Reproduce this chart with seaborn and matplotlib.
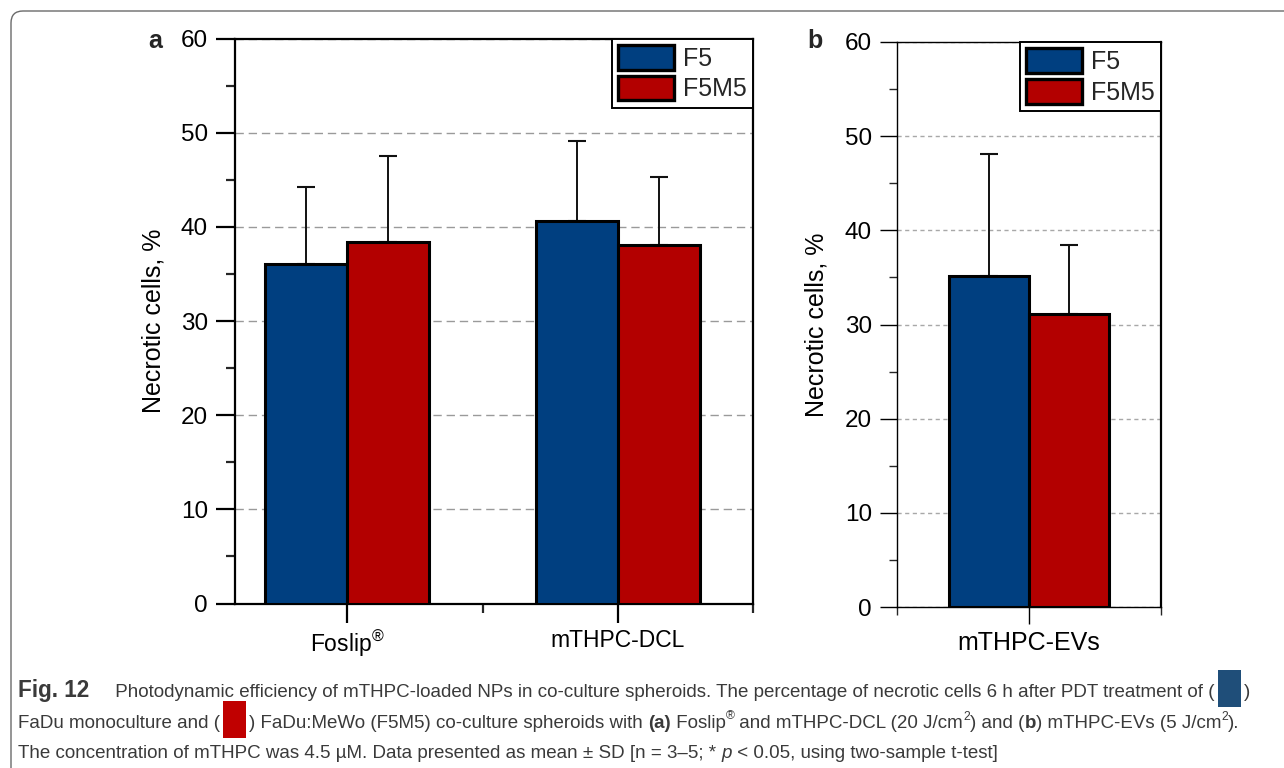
import numpy as np
import pandas as pd
import matplotlib
matplotlib.use("Agg")
import matplotlib.pyplot as plt
import seaborn as sns
from matplotlib.patches import Rectangle, FancyBboxPatch
from matplotlib.ticker import MultipleLocator, FixedLocator
from matplotlib.transforms import IdentityTransform

# panel a: 20 J/cm2
samples_a = ["Foslip®", "mTHPC-DCL"]
f5_a = [36.1, 40.6]
f5_sd_a = [8.1, 8.5]
f5m5_a = [38.4, 38.1]
f5m5_sd_a = [9.1, 7.2]

# panel b: 5 J/cm2
samples_b = ["mTHPC-EVs"]
f5_b = [35.2]
f5_sd_b = [12.9]
f5m5_b = [31.1]
f5m5_sd_b = [7.3]

lines = ["F5", "F5M5"]
colors = {"F5": "#003F80", "F5M5": "#B30000"}

W, H = 1284, 768

sns.set_theme(style="white")
plt.rcParams["font.family"] = ["Liberation Sans", "DejaVu Sans"]
plt.rcParams["mathtext.fontset"] = "custom"
plt.rcParams["mathtext.rm"] = "Liberation Sans"
plt.rcParams["mathtext.it"] = "Liberation Sans:italic"
plt.rcParams["mathtext.bf"] = "Liberation Sans:bold"

fig = plt.figure(figsize=(W / 100, H / 100), dpi=100)
fig.patch.set_facecolor("white")


def px_axes(left, top, right, bottom):
    return fig.add_axes([left / W, 1 - bottom / H, (right - left) / W, (bottom - top) / H])


def draw_panel(ax, samples, f5, f5m5, sd_f5, sd_f5m5, xlim, minor_x, spine_lw,
               tick_len, grid_dash, grid_color, xfont):
    df = pd.DataFrame({
        "sample": samples * 2,
        "line": ["F5"] * len(samples) + ["F5M5"] * len(samples),
        "value": f5 + f5m5,
    })
    sns.barplot(data=df, x="sample", y="value", hue="line", hue_order=lines,
                palette=colors, saturation=1, width=0.605, gap=0,
                edgecolor="black", linewidth=2.2, errorbar=None, ax=ax, zorder=3)

    # upper SD only, centred on each bar
    for cont, sd in zip(ax.containers, [sd_f5, sd_f5m5]):
        xs = [p.get_x() + p.get_width() / 2 for p in cont]
        ys = [p.get_height() for p in cont]
        ax.errorbar(xs, ys, yerr=[np.zeros(len(sd)), sd], fmt="none",
                    ecolor="#111111", elinewidth=1.4, capsize=6.5, capthick=1.5,
                    zorder=2)

    old = ax.get_legend()
    handles = old.legend_handles
    labels = [t.get_text() for t in old.get_texts()]
    leg = ax.legend(handles, labels, loc="upper right", borderaxespad=0,
                    frameon=True, fancybox=False, framealpha=1, edgecolor="black",
                    fontsize=18, handlelength=2.25, handleheight=1.15,
                    handletextpad=0.36, borderpad=0.25, labelspacing=0.2)
    leg.get_frame().set_linewidth(1.4)
    for h in leg.legend_handles:
        h.set_edgecolor("black")
        h.set_linewidth(2.4)

    ax.set_xlim(*xlim)
    ax.set_ylim(0, 60)
    ax.yaxis.set_major_locator(MultipleLocator(10))
    ax.yaxis.set_minor_locator(MultipleLocator(5))
    ax.xaxis.set_minor_locator(FixedLocator(minor_x))
    ax.set_xticks(range(len(samples)))
    ax.set_xticklabels([s.replace("®", r"$^{®}$") for s in samples], fontsize=xfont)
    ax.tick_params(axis="y", which="major", direction="out", length=tick_len,
                   width=spine_lw, labelsize=17.5, pad=6, left=True, right=False)
    ax.tick_params(axis="y", which="minor", direction="out", length=tick_len / 2,
                   width=spine_lw, left=True, right=False)
    ax.tick_params(axis="x", which="major", direction="out", length=tick_len,
                   width=spine_lw, pad=5, bottom=True, top=False)
    ax.tick_params(axis="x", which="minor", direction="out", length=tick_len / 2,
                   width=spine_lw, bottom=True, top=False)
    ax.tick_params(colors="black")
    for sp in ax.spines.values():
        sp.set_visible(True)
        sp.set_color("black")
        sp.set_linewidth(spine_lw)
    ax.set_axisbelow(True)
    ax.yaxis.grid(True, linestyle=grid_dash, color=grid_color, linewidth=1.0)
    ax.xaxis.grid(False)
    ax.set_xlabel("")
    ax.set_ylabel("Necrotic cells, %", fontsize=18, color="black")
    return ax


ax_a = px_axes(235, 38.5, 753, 603.5)
draw_panel(ax_a, samples_a, f5_a, f5m5_a, f5_sd_a, f5m5_sd_a,
           xlim=(-0.415, 1.5), minor_x=[0.5, 1.5], spine_lw=1.6, tick_len=13.5,
           grid_dash=(0, (6, 3.5)), grid_color="#9a9a9a", xfont=16.5)
ax_a.yaxis.set_label_coords((166 - 235) / 518, 0.5)

ax_b = px_axes(897, 42, 1161, 607)
draw_panel(ax_b, samples_b, f5_b, f5m5_b, f5_sd_b, f5m5_sd_b,
           xlim=(-0.5, 0.5), minor_x=[-0.5, 0.5], spine_lw=1.0, tick_len=12,
           grid_dash=(0, (3, 2.5)), grid_color="#a8a8a8", xfont=18)
ax_b.spines["right"].set_linewidth(1.6)
ax_b.yaxis.set_label_coords((828 - 897) / 264, 0.5)

fig.text(148 / W, 1 - 48 / H, "a", fontsize=18, fontweight="bold", va="baseline")
fig.text(807 / W, 1 - 48 / H, "b", fontsize=18, fontweight="bold", va="baseline")

# rounded frame round the figure (cropped at right and bottom)
fig.add_artist(FancyBboxPatch((11, -40), 1320, H - 11 + 40,
                              boxstyle="round,pad=0,rounding_size=12",
                              transform=IdentityTransform(), facecolor="none",
                              edgecolor="#6a6a6a", linewidth=1.0))

# caption
cap_font = ["Liberation Sans", "DejaVu Sans"]
cap_color = "#3a3a3a"
renderer = fig.canvas.get_renderer()

styles = {
    "": {},
    "b": {"fontweight": "bold"},
    "fig": {"fontweight": "bold"},
    "i": {"fontstyle": "italic"},
    "sup": {},
}
scale = {"fig": 1.2, "sup": 0.65}


def text_width(s, size, kw):
    t1 = fig.text(0, 0, "|" + s + "|", fontsize=size, family=cap_font, **kw)
    t0 = fig.text(0, 0, "||", fontsize=size, family=cap_font, **kw)
    w = t1.get_window_extent(renderer).width - t0.get_window_extent(renderer).width
    t1.remove()
    t0.remove()
    return w


line1 = [("Fig. 12", "fig"),
         ("     Photodynamic efficiency of mTHPC-loaded NPs in co-culture spheroids. "
          "The percentage of necrotic cells 6 h after PDT treatment of (", ""),
         ("#1F4E79", "box"), (")", "")]
line2 = [("FaDu monoculture and (", ""), ("#C00000", "box"),
         (") FaDu:MeWo (F5M5) co-culture spheroids with ", ""), ("(a)", "b"),
         (" Foslip", ""), ("®", "sup"), (" and mTHPC-DCL (20 J/cm", ""), ("2", "sup"),
         (") and (", ""), ("b", "b"), (") mTHPC-EVs (5 J/cm", ""), ("2", "sup"),
         (").", "")]
line3 = [("The concentration of mTHPC was 4.5 µM. Data presented as mean ± SD "
          "[n = 3–5; * ", ""), ("p", "i"), (" < 0.05, using two-sample t-test]", "")]

# pick the caption size so that the first line ends where it does in the original
probe = sum(text_width(s, 10 * scale.get(k, 1), styles[k]) for s, k in line1 if k != "box")
cap_size = 10 * (1258 - 18 - 29) / probe


def draw_line(pieces, x, baseline):
    for s, kind in pieces:
        if kind == "box":
            x += 3
            fig.add_artist(Rectangle((x / W, 1 - (baseline + 10) / H), 23 / W, 37 / H,
                                     transform=fig.transFigure, facecolor=s,
                                     edgecolor="none"))
            x += 23 + 3
            continue
        size = cap_size * scale.get(kind, 1)
        dy = -0.45 * cap_size * 1.39 if kind == "sup" else 0
        kw = styles[kind]
        fig.text(x / W, 1 - (baseline + dy) / H, s, fontsize=size, family=cap_font,
                 color=cap_color, va="baseline", ha="left", **kw)
        x += text_width(s, size, kw)


draw_line(line1, 18, 697)
draw_line(line2, 18, 728)
draw_line(line3, 18, 758)

fig.savefig("out.png", dpi=100, facecolor="white")
